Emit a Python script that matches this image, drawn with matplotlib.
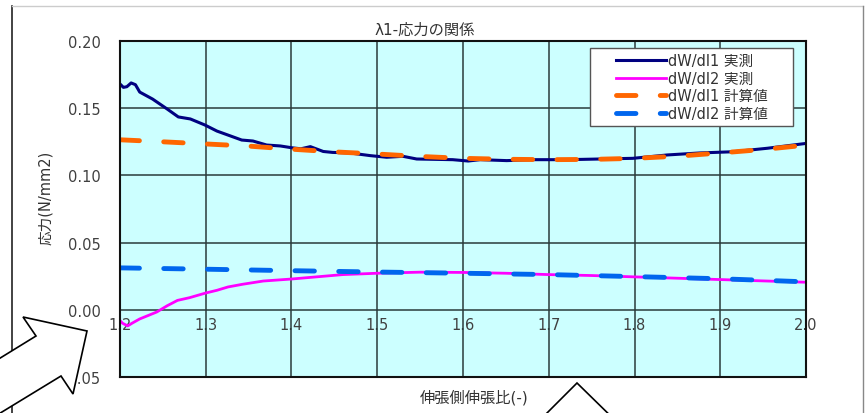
import matplotlib
matplotlib.use("Agg")
import matplotlib.pyplot as plt
from matplotlib.patches import Polygon
from matplotlib.lines import Line2D
from matplotlib.legend_handler import HandlerLine2D
from matplotlib.transforms import Affine2D

plt.rcParams['font.family'] = ['DejaVu Sans', 'Noto Sans CJK JP']

# measured dW/dl1
meas1_x = [1.200, 1.204, 1.208, 1.213, 1.218, 1.223, 1.238, 1.255, 1.268, 1.282,
           1.299, 1.313, 1.326, 1.342, 1.355, 1.371, 1.387, 1.401, 1.411, 1.422,
           1.437, 1.448, 1.468, 1.492, 1.511, 1.530, 1.546, 1.588, 1.606, 1.620,
           1.651, 1.682, 1.721, 1.798, 1.838, 1.876, 1.915, 1.955, 2.000]
meas1_y = [0.168, 0.1655, 0.166, 0.1688, 0.1675, 0.162, 0.1568, 0.1494, 0.1435, 0.142,
           0.1375, 0.133, 0.130, 0.1263, 0.1256, 0.1226, 0.1219, 0.1205, 0.1198, 0.1214,
           0.1178, 0.1171, 0.1167, 0.1147, 0.1135, 0.1142, 0.1122, 0.1117, 0.1107, 0.1117,
           0.1110, 0.1117, 0.1117, 0.1127, 0.1152, 0.1167, 0.1176, 0.1202, 0.1238]

# measured dW/dl2
meas2_x = [1.200, 1.203, 1.209, 1.214, 1.223, 1.243, 1.255, 1.267, 1.281, 1.300,
           1.313, 1.326, 1.343, 1.367, 1.400, 1.440, 1.460, 1.500, 1.550, 1.600,
           1.650, 1.700, 1.750, 1.800, 1.850, 1.900, 1.950, 2.000]
meas2_y = [-0.008, -0.010, -0.012, -0.010, -0.0068, -0.0016, 0.003, 0.007, 0.009, 0.0125,
           0.0145, 0.017, 0.019, 0.0214, 0.0229, 0.0251, 0.0262, 0.0272, 0.028, 0.0278,
           0.0272, 0.0262, 0.0255, 0.0245, 0.0235, 0.0225, 0.0215, 0.0205]

# calculated dW/dl1
calc1_x = [1.20, 1.25, 1.30, 1.35, 1.40, 1.45, 1.50, 1.55, 1.60, 1.65, 1.70, 1.75,
           1.80, 1.85, 1.90, 1.95, 2.00]
calc1_y = [0.1265, 0.1250, 0.1234, 0.1218, 0.1195, 0.1175, 0.1159, 0.1141, 0.1127,
           0.1120, 0.1117, 0.1119, 0.1127, 0.1143, 0.1167, 0.1193, 0.1225]

# calculated dW/dl2
calc2_x = [1.20, 1.30, 1.40, 1.50, 1.60, 1.70, 1.80, 1.90, 2.00]
calc2_y = [0.0312, 0.0302, 0.0291, 0.0281, 0.0272, 0.0262, 0.0247, 0.0231, 0.0208]

x_ticks = [1.2, 1.3, 1.4, 1.5, 1.6, 1.7, 1.8, 1.9, 2.0]
y_ticks = [-0.05, 0.00, 0.05, 0.10, 0.15, 0.20]
y_tick_labels = ['-0.05', '0.00', '0.05', '0.10', '0.15', '0.20']

labels = ['dW/dl1 実測', 'dW/dl2 実測', 'dW/dl1 計算値', 'dW/dl2 計算値']
title = 'λ1-応力の関係'
xlabel = '伸張側伸張比(-)'
ylabel = '応力(N/mm2)'


class ShortLineHandler(HandlerLine2D):
    """Legend line sample that only fills the right part of the handle box."""
    frac = 0.7

    def create_artists(self, legend, orig_handle, xdescent, ydescent,
                       width, height, fontsize, trans):
        shift = width * (1 - self.frac)
        return super().create_artists(legend, orig_handle, xdescent - shift,
                                      ydescent, width * self.frac, height,
                                      fontsize, trans)


W, H = 865, 414
fig = plt.figure(figsize=(W / 100, H / 100), dpi=100)
fig.patch.set_facecolor('white')
# pixel coordinates (origin top-left) -> figure
px = Affine2D().scale(1 / W, -1 / H).translate(0, 1) + fig.transFigure

ax = fig.add_axes([120 / W, 1 - 378 / H, 686 / W, 336 / H])
ax.set_facecolor('#ccffff')
ax.set_xlim(1.2, 2.0)
ax.set_ylim(-0.05, 0.20)

ax.set_xticks(x_ticks)
ax.set_yticks(y_ticks)
ax.set_yticklabels(y_tick_labels)
ax.grid(True, color='#2a3a3a', linewidth=1.1)
ax.set_axisbelow(True)
ax.tick_params(axis='y', length=0, pad=14, labelsize=10.5, labelcolor='#404040')
ax.tick_params(axis='x', length=0, labelbottom=False)
for s in ax.spines.values():
    s.set_color('#111111')
    s.set_linewidth(1.5)

# category labels sit along the zero line
ymin, ymax = ax.get_ylim()
sec = ax.secondary_xaxis((0 - ymin) / (ymax - ymin))
sec.set_xticks(x_ticks)
sec.set_xticklabels([f'{v:.1f}' for v in x_ticks])
sec.tick_params(length=0, pad=5, labelsize=10.5, labelcolor='#404040')
sec.spines['bottom'].set_visible(False)

l1, = ax.plot(meas1_x, meas1_y, color='#000080', lw=2.2, solid_joinstyle='round')
l2, = ax.plot(meas2_x, meas2_y, color='#ff00ff', lw=2.0, solid_joinstyle='round')
l3, = ax.plot(calc1_x, calc1_y, color='#ff6600', lw=3.5, dashes=(4, 5),
              dash_capstyle='round')
l4, = ax.plot(calc2_x, calc2_y, color='#0066ee', lw=3.5, dashes=(4, 5),
              dash_capstyle='round')

short = ShortLineHandler()
leg = ax.legend([l1, l2, l3, l4], labels, loc='upper left', mode='expand',
                bbox_to_anchor=(0.685, 0.759, 0.296, 0.220), borderaxespad=0,
                fancybox=False, framealpha=1, edgecolor='#555555',
                fontsize=10.5, handlelength=4.9, handletextpad=0.1,
                labelspacing=0.18, borderpad=0.35,
                handler_map={l1: short, l2: short, l3: short, l4: short})
leg.get_frame().set_linewidth(1.0)
for t in leg.get_texts():
    t.set_color('#333333')

fig.text(425 / W, 1 - 30 / H, title, ha='center', va='center', fontsize=11,
         color='#333333')
fig.text(474 / W, 1 - 398 / H, xlabel, ha='center', va='center', fontsize=11,
         color='#333333')
fig.text(46 / W, 1 - 198 / H, ylabel, ha='center', va='center', fontsize=10.5,
         rotation=90, color='#333333')

# outer frame of the sheet
fig.add_artist(Line2D([12, 12], [7, 414], transform=px, color='#222222', lw=1.2))
fig.add_artist(Line2D([12, 863], [7, 7], transform=px, color='#cccccc', lw=1.0))
fig.add_artist(Line2D([863, 863], [7, 414], transform=px, color='#888888', lw=1.0))

# call-out arrows
arrow1 = [(-22.5, 373), (36, 337), (23, 318), (87, 332), (73, 395), (61, 377), (-21, 427)]
arrow2 = [(531, 430), (577, 384), (624, 430)]
for pts in (arrow1, arrow2):
    fig.add_artist(Polygon(pts, closed=True, transform=px, facecolor='white',
                           edgecolor='black', lw=1.2, zorder=10))

fig.savefig('out.png', dpi=100)
